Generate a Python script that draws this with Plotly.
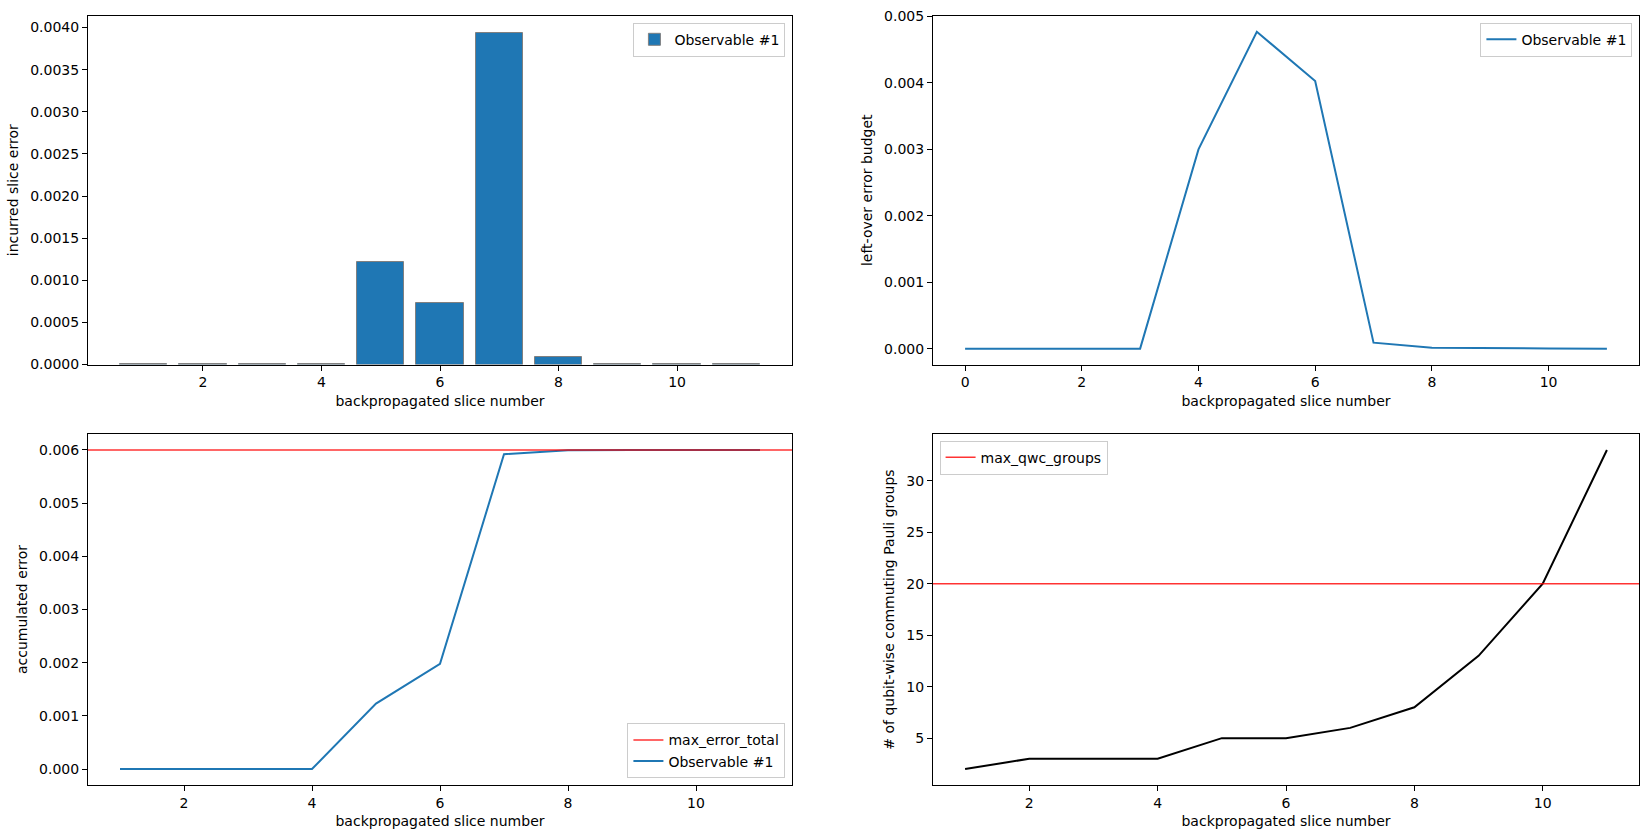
import plotly.graph_objects as go

# ---- data ----
slices = [1, 2, 3, 4, 5, 6, 7, 8, 9, 10, 11]
incurred_error = [1e-7, 1e-7, 1e-7, 1e-7, 0.00122, 0.000735, 0.003940, 0.000085, 0.00001, 1e-7, 1e-7]

budget_slices = [0, 1, 2, 3, 4, 5, 6, 7, 8, 9, 10, 11]
leftover_budget = [0.0, 0.0, 0.0, 0.0, 0.00300, 0.00477, 0.00403, 0.00009, 0.000015, 0.000004, 0.000002, 0.0]

accumulated_error = [0.0, 0.0, 0.0, 0.0, 0.00123, 0.00198, 0.00592, 0.005995, 0.0060, 0.0060, 0.0060]
max_error_total = 0.006

qwc_groups = [2, 3, 3, 3, 5, 5, 6, 8, 13, 20, 33]
max_qwc_groups = 20

series_name = "Observable #1"
xlabel = "backpropagated slice number"

BLUE = "#1f77b4"
RED = "rgba(255,0,0,0.8)"
FONT = "DejaVu Sans"
FS = 14

W, H = 1647, 838
# domains in paper coordinates
xl = [88 / W, 792 / W]
xr = [933 / W, 1639 / W]
yt = [1 - 364.5 / H, 1 - 16 / H]
yb = [1 - 785 / H, 1 - 434 / H]

fig = go.Figure()

fig.add_trace(go.Bar(x=slices, y=incurred_error, width=0.8, name=series_name,
                     marker=dict(color=BLUE, line=dict(color="gray", width=1)),
                     xaxis="x", yaxis="y", legend="legend"))

fig.add_trace(go.Scatter(x=budget_slices, y=leftover_budget, mode="lines", name=series_name,
                         line=dict(color=BLUE, width=2), xaxis="x2", yaxis="y2", legend="legend2"))

fig.add_trace(go.Scatter(x=[0, 1], y=[max_error_total, max_error_total], mode="lines",
                         name="max_error_total", line=dict(color=RED, width=1.5),
                         xaxis="x5", yaxis="y3", legend="legend3"))
fig.add_trace(go.Scatter(x=slices, y=accumulated_error, mode="lines", name=series_name,
                         line=dict(color=BLUE, width=2), xaxis="x3", yaxis="y3", legend="legend3"))

fig.add_trace(go.Scatter(x=[0, 1], y=[max_qwc_groups, max_qwc_groups], mode="lines",
                         name="max_qwc_groups", line=dict(color=RED, width=1.5),
                         xaxis="x6", yaxis="y4", legend="legend4"))
fig.add_trace(go.Scatter(x=slices, y=qwc_groups, mode="lines", name="qwc",
                         line=dict(color="black", width=2), xaxis="x4", yaxis="y4",
                         showlegend=False))

tickfont = dict(family=FONT, size=FS, color="black")
common = dict(showline=True, linecolor="black", linewidth=1, mirror=True,
              ticks="outside", ticklen=5, tickwidth=1, tickcolor="black",
              showgrid=False, zeroline=False, tickfont=tickfont, automargin=False,
              title_font=dict(family=FONT, size=FS, color="black"))

def xax(domain, anchor, rng, dtick=2):
    return dict(domain=domain, anchor=anchor, range=rng, tickmode="linear", tick0=0,
                dtick=dtick, title=dict(text=xlabel, standoff=6), **common)

def yax(domain, anchor, rng, title, fmt, dtick):
    return dict(domain=domain, anchor=anchor, range=rng, tickformat=fmt, tickmode="linear",
                tick0=0, dtick=dtick, title=dict(text=title, standoff=8), **common)

def legend(x, y, xanchor, yanchor):
    return dict(x=x, y=y, xanchor=xanchor, yanchor=yanchor, xref="paper", yref="paper",
                bgcolor="rgba(255,255,255,0.8)", bordercolor="#cccccc", borderwidth=1,
                font=dict(family=FONT, size=FS, color="black"))

fig.update_layout(
    width=W, height=H, plot_bgcolor="white", paper_bgcolor="white",
    margin=dict(l=0, r=0, t=0, b=0), showlegend=True, bargap=0,
    font=dict(family=FONT, size=FS, color="black"),
    xaxis=xax(xl, "y", [0.06, 11.94]),
    yaxis=yax(yt, "x", [0, 0.004137], "incurred slice error", ".4f", 0.0005),
    xaxis2=xax(xr, "y2", [-0.55, 11.55]),
    yaxis2=yax(yt, "x2", [-0.000239, 0.005008], "left-over error budget", ".3f", 0.001),
    xaxis3=xax(xl, "y3", [0.5, 11.5]),
    yaxis3=yax(yb, "x3", [-0.0003, 0.0063], "accumulated error", ".3f", 0.001),
    xaxis4=xax(xr, "y4", [0.5, 11.5]),
    yaxis4=dict(domain=yb, anchor="x4", range=[0.45, 34.55], tickmode="linear", tick0=0, dtick=5,
                title=dict(text="# of qubit-wise commuting Pauli groups", standoff=8), **common),
    xaxis5=dict(domain=xl, anchor="y3", overlaying="x3", range=[0, 1], visible=False),
    xaxis6=dict(domain=xr, anchor="y4", overlaying="x4", range=[0, 1], visible=False),
    legend=legend(xl[1] - 0.004, yt[1] - 0.008, "right", "top"),
    legend2=legend(xr[1] - 0.004, yt[1] - 0.008, "right", "top"),
    legend3=legend(xl[1] - 0.004, yb[0] + 0.008, "right", "bottom"),
    legend4=legend(xr[0] + 0.004, yb[1] - 0.008, "left", "top"),
)
fig.write_html("out.html", config={"displayModeBar": False},
               post_script="document.body.style.margin='0';document.body.style.overflow='hidden';")
